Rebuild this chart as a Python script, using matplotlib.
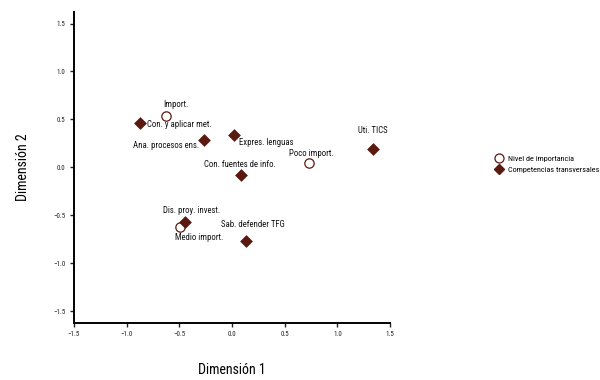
import matplotlib.pyplot as plt
from matplotlib.lines import Line2D
from matplotlib import font_manager

BROWN = "#5a1a10"
names = {f.name for f in font_manager.fontManager.ttflist}
narrow = [n for n in ["Liberation Sans Narrow", "Roboto Condensed",
                      "Open Sans Condensed"] if n in names]
FONT = narrow + ["DejaVu Sans"]

# nivel de importancia (círculos)
niv_labels = ["Import.", "Poco import.", "Medio import."]
niv_x = [-0.63, 0.735, -0.49]
niv_y = [0.54, 0.05, -0.62]
niv_off = [(10, 11, "center"), (2, 9, "center"), (19, -11, "center")]

# competencias transversales (rombos)
comp_labels = ["Con. y aplicar met.", "Ana. procesos ens.", "Expres. lenguas",
               "Con. fuentes de info.", "Uti. TICS", "Dis. proy. invest.",
               "Sab. defender TFG"]
comp_x = [-0.87, -0.265, 0.02, 0.086, 1.34, -0.446, 0.13]
comp_y = [0.46, 0.285, 0.335, -0.083, 0.19, -0.565, -0.77]
comp_off = [(7, -1, "left"), (-5, -5, "right"), (5, -7, "left"),
            (-1, 11, "center"), (0, 19, "center"), (7, 11, "center"),
            (7, 17, "center")]

fig = plt.figure(figsize=(6, 3.8), dpi=100)
ax = fig.add_axes([74 / 600, 1 - 322.7 / 380, 316 / 600, 310.7 / 380])
ax.set_xlim(-1.5, 1.5)
ax.set_ylim(-1.62, 1.62)

ax.scatter(niv_x, niv_y, s=45, marker="o", facecolor="white",
           edgecolor=BROWN, linewidth=0.9, zorder=3)
ax.scatter(comp_x, comp_y, s=36, marker="D", facecolor=BROWN,
           edgecolor=BROWN, linewidth=0.5, zorder=4)

for lab, x, y, (dx, dy, ha) in zip(niv_labels + comp_labels, niv_x + comp_x,
                                   niv_y + comp_y, niv_off + comp_off):
    ax.annotate(lab, (x, y), xytext=(dx, dy), textcoords="offset pixels",
                ha=ha, va="center", fontsize=6.3, family=FONT,
                stretch="condensed", color="#111111")

for s in ["top", "right"]:
    ax.spines[s].set_visible(False)
for s in ["left", "bottom"]:
    ax.spines[s].set_linewidth(1.4)
ax.set_xticks([-1.5, -1.0, -0.5, 0.0, 0.5, 1.0, 1.5])
ax.set_yticks([-1.5, -1.0, -0.5, 0.0, 0.5, 1.0, 1.5])
ax.tick_params(length=3, width=1, labelsize=5, colors="#222222", pad=3)
for t in ax.get_xticklabels() + ax.get_yticklabels():
    t.set_family(FONT)

ax.set_xlabel("Dimensión 1", fontsize=10, family=FONT, stretch="condensed",
              labelpad=18)
ax.set_ylabel("Dimensión 2", fontsize=10, family=FONT, stretch="condensed",
              labelpad=17)

handles = [
    Line2D([], [], marker="o", ls="", markerfacecolor="white",
           markeredgecolor=BROWN, markersize=6.5, markeredgewidth=0.9),
    Line2D([], [], marker="D", ls="", markerfacecolor=BROWN,
           markeredgecolor=BROWN, markersize=5.5),
]
fig.legend(handles, ["Nivel de importancia", "Competencias transversales"],
           loc="center left", bbox_to_anchor=(487 / 600, 1 - 164 / 380),
           frameon=False, prop={"family": FONT, "size": 5.9,
                                "stretch": "condensed"},
           handletextpad=0.1, labelspacing=0.6, borderpad=0)

fig.savefig("out.png", dpi=100)
